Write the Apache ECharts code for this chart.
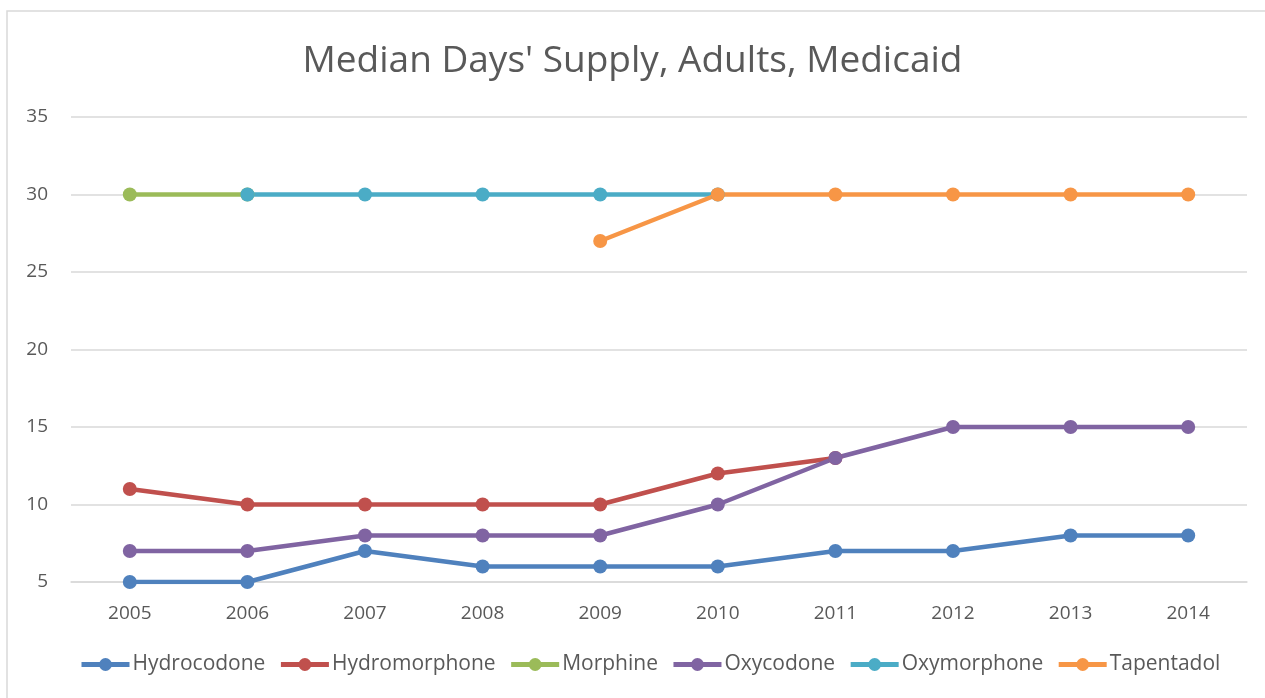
<!DOCTYPE html>
<html>
<head>
<meta charset="utf-8">
<script src="https://cdn.jsdelivr.net/npm/echarts@6/dist/echarts.min.js"></script>
<style>
html, body { margin: 0; padding: 0; background: #fff; }
#chart { width: 1265px; height: 698px; }
</style>
</head>
<body>
<div id="chart"></div>
<script>
var years = ['2005', '2006', '2007', '2008', '2009', '2010', '2011', '2012', '2013', '2014'];
var yTicks = [5, 35, 5]; // min, max, step

var hydrocodone   = [5, 5, 7, 6, 6, 6, 7, 7, 8, 8];
var hydromorphone = [11, 10, 10, 10, 10, 12, 13, null, null, null];
var morphine      = [30, 30, null, null, null, null, null, null, null, null];
var oxycodone     = [7, 7, 8, 8, 8, 10, 13, 15, 15, 15];
var oxymorphone   = [null, 30, 30, 30, 30, 30, null, null, null, null];
var tapentadol    = [null, null, null, null, 27, 30, 30, 30, 30, 30];

var names  = ['Hydrocodone', 'Hydromorphone', 'Morphine', 'Oxycodone', 'Oxymorphone', 'Tapentadol'];
var values = [hydrocodone, hydromorphone, morphine, oxycodone, oxymorphone, tapentadol];
var colors = ['#4F81BD', '#C0504D', '#9BBB59', '#8064A2', '#4BACC6', '#F79646'];

var font = 'Open Sans';
var textColor = '#595959';

var chart = echarts.init(document.getElementById('chart'));

var series = names.map(function (n, i) {
  return {
    name: n,
    type: 'line',
    data: values[i],
    symbol: 'circle',
    symbolSize: 14,
    animation: false,
    itemStyle: { color: colors[i] },
    lineStyle: { color: colors[i], width: 4.5 }
  };
});

chart.setOption({
  color: colors,
  graphic: [{
    type: 'rect',
    shape: { x: 7, y: 11, width: 1270, height: 700 },
    style: { fill: 'none', stroke: '#d9d9d9', lineWidth: 1.5 },
    silent: true
  }],
  title: {
    text: "Median Days' Supply, Adults, Medicaid",
    left: 'center',
    top: 38,
    textStyle: { fontFamily: font, fontSize: 37, fontWeight: 'normal', color: textColor }
  },
  grid: { left: 71, right: 18, top: 117, bottom: 116, containLabel: false },
  xAxis: {
    type: 'category',
    data: years,
    boundaryGap: true,
    axisLine: { lineStyle: { color: '#d9d9d9', width: 1.5 } },
    axisTick: { show: false },
    axisLabel: { fontFamily: font, fontSize: 19, color: textColor, margin: 22 }
  },
  yAxis: {
    type: 'value',
    min: yTicks[0],
    max: yTicks[1],
    interval: yTicks[2],
    axisLine: { show: false },
    axisTick: { show: false },
    splitLine: { lineStyle: { color: '#d9d9d9', width: 1.5 } },
    axisLabel: { fontFamily: font, fontSize: 19, color: textColor, margin: 23 }
  },
  legend: {
    data: names,
    bottom: 18,
    left: 74,
    itemWidth: 48,
    itemHeight: 16,
    itemGap: 13,
    lineStyle: { width: 5 },
    textStyle: { fontFamily: font, fontSize: 21, color: textColor, padding: [0, 0, 0, -2] }
  },
  series: series
});
</script>
</body>
</html>
